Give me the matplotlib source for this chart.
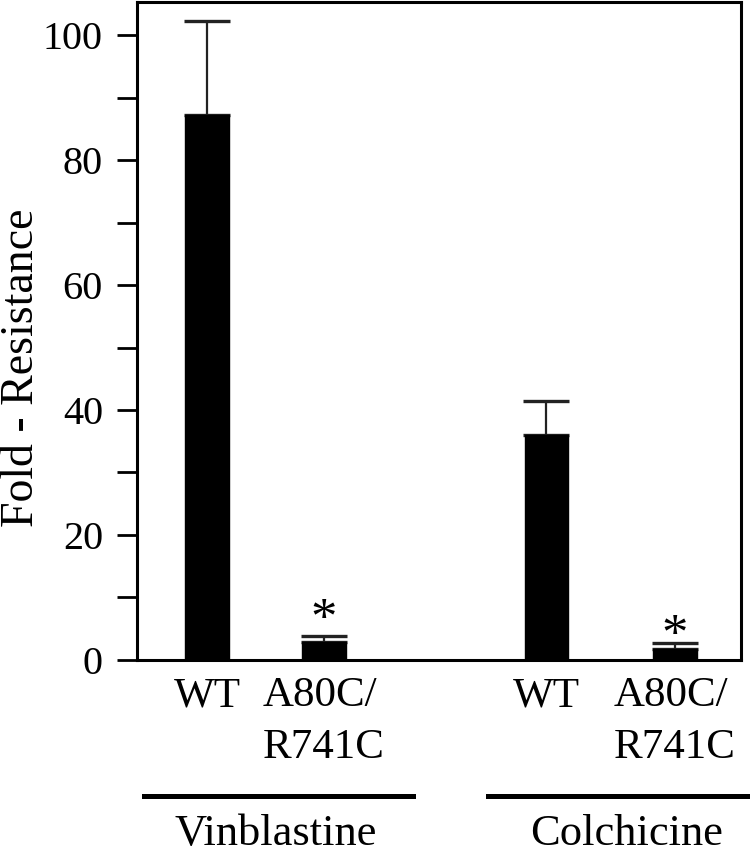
import matplotlib
matplotlib.use("Agg")
import matplotlib.pyplot as plt
from matplotlib.lines import Line2D

plt.rcParams['font.family'] = ['Liberation Serif', 'DejaVu Serif']

# data
labels = ["WT", "A80C/\nR741C", "WT", "A80C/\nR741C"]
fold = [87.2, 2.9, 36.0, 1.8]
err = [15.0, 0.9, 5.4, 0.9]
signif = [False, True, False, True]
star_base = [0, 4.2, 0, 1.6]   # baseline height of the asterisks
groups = ["Vinblastine", "Colchicine"]

xpos = [0, 1, 2.9, 4.0]

fig = plt.figure(figsize=(7.5, 8.52), dpi=100)
ax = fig.add_axes([0.1827, 0.2254, 0.8053, 0.7723])

ax.bar(xpos, fold, width=0.368, color="black", edgecolor="black", zorder=2)
ax.errorbar(xpos, fold, yerr=[[0] * len(err), err], fmt="none", ecolor="#222222",
            elinewidth=1.6, capsize=16.5, capthick=2.4, zorder=1)

for x, s, yb in zip(xpos, signif, star_base):
    if s:
        ax.text(x, yb, "*", ha="center", va="baseline", fontsize=38)

ax.set_xlim(-0.598, 4.564)
ax.set_ylim(0, 105.3)
ax.set_yticks([0, 20, 40, 60, 80, 100])
ax.set_yticks([10, 30, 50, 70, 90], minor=True)
ax.tick_params(axis="y", which="both", direction="out", length=14.5, width=2,
               labelsize=29, pad=10)
ax.set_xticks(xpos)
ax.set_xticklabels(labels, fontsize=31, linespacing=1.45)
for t in ax.get_xticklabels():
    t.set_multialignment("left")
ax.tick_params(axis="x", length=0, pad=12)
for sp in ax.spines.values():
    sp.set_linewidth(2.2)

ax.set_ylabel("Fold - Resistance", fontsize=33, va="baseline")
ax.yaxis.set_label_coords(-0.172, 0.444)

# group brackets under the tick labels
fig.add_artist(Line2D([0.192, 0.551], [0.0657, 0.0657], color="black", lw=3.6))
fig.add_artist(Line2D([0.651, 0.997], [0.0657, 0.0657], color="black", lw=3.6))
fig.text(0.367, 0.008, groups[0], ha="center", va="baseline", fontsize=32)
fig.text(0.836, 0.008, groups[1], ha="center", va="baseline", fontsize=32)

fig.savefig("out.png", dpi=100)
